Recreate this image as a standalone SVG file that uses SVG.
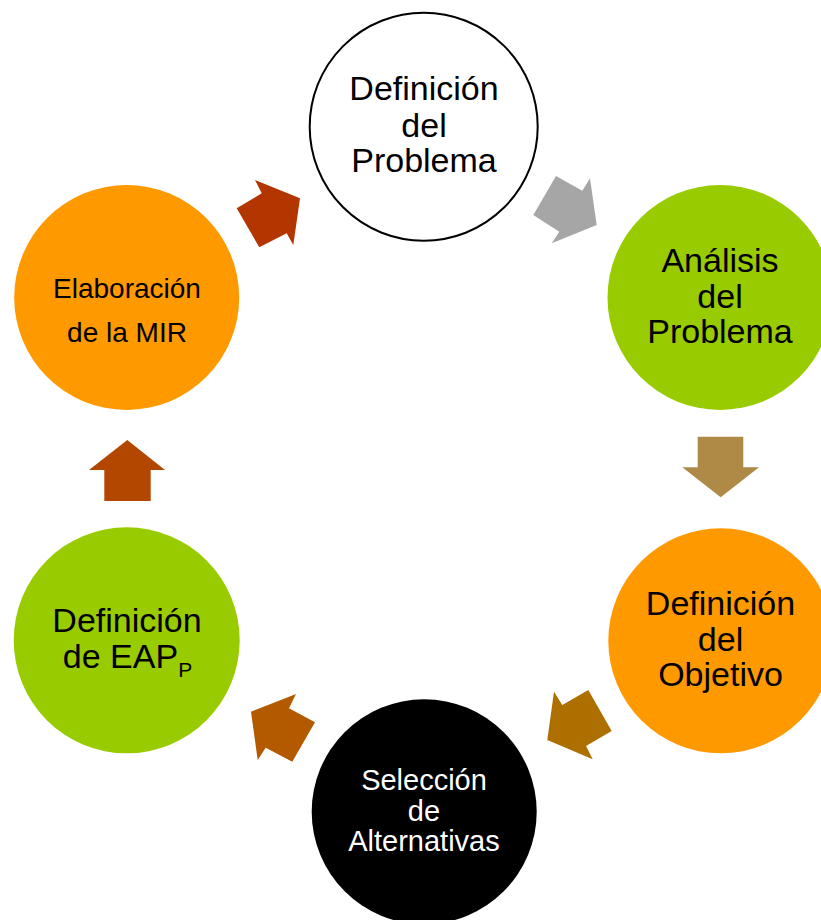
<svg xmlns="http://www.w3.org/2000/svg" width="821" height="920" viewBox="0 0 821 920">
<style>
text{font-family:"Liberation Sans",Arial,sans-serif;text-anchor:middle;fill:#000}
.big{font-size:34px}
.mid{font-size:28px}
.sel{font-size:29px;fill:#fff}
.orange{fill:#FF9900}
.green{fill:#99CC00}
</style>
<rect width="821" height="920" fill="#fff"/>
<g id="connectors">
<polygon fill="#A6A6A6" points="556,176 582.3,190.7 590,178.3 596.7,225 551.7,243.3 559.3,231.7 533.3,215"/>
<polygon fill="#AF8A47" points="697.7,436.7 743.3,436.7 743.3,467.3 759,467.3 720.7,497.3 682.3,467.3 697.7,467.3"/>
<polygon fill="#AD7000" points="554,691.7 562.3,705 588.3,690 611.7,731 586,746 592.7,759.3 547.3,740"/>
<polygon fill="#B35900" points="251,711.7 296,694 289,708.3 315,722.3 292.3,761.7 265.7,747.7 257.7,760"/>
<polygon fill="#B34700" points="127.3,440 165,470 150.7,470 150.7,501 104.3,501 104.3,470 89,470"/>
<polygon fill="#B33600" points="255,180 300,198.3 293.3,245 286.7,233.3 259.3,247.3 236.7,208.3 261.7,193.3"/>
</g>
<g id="n1">
<circle cx="423.7" cy="126.7" r="114" fill="#fff" stroke="#000" stroke-width="2"/>
<text class="big" x="424" y="100">Definición</text>
<text class="big" x="424" y="136.5">del</text>
<text class="big" x="424" y="171.5">Problema</text>
</g>
<g id="n2">
<circle class="green" cx="720" cy="297.5" r="112.5"/>
<text class="big" x="720" y="271.5">Análisis</text>
<text class="big" x="720" y="308">del</text>
<text class="big" x="720" y="343">Problema</text>
</g>
<g id="n3">
<circle class="orange" cx="720.8" cy="640.8" r="112.5"/>
<text class="big" x="720.5" y="614.5">Definición</text>
<text class="big" x="720.5" y="650.5">del</text>
<text class="big" x="720.5" y="686">Objetivo</text>
</g>
<g id="n4">
<circle cx="424.2" cy="811.8" r="112.5" fill="#000"/>
<text class="sel" x="424" y="790">Selección</text>
<text class="sel" x="424" y="820.5">de</text>
<text class="sel" x="424" y="850.5">Alternativas</text>
</g>
<g id="n5">
<circle class="green" cx="126.7" cy="640.3" r="113"/>
<text class="big" x="127" y="631.5">Definición</text>
<text class="big" x="127.5" y="668.3">de EAP<tspan font-size="21" dy="8.5">P</tspan></text>
</g>
<g id="n6">
<circle class="orange" cx="126.7" cy="297.5" r="112.5"/>
<text class="mid" x="127" y="298.3">Elaboración</text>
<text class="mid" x="127" y="342.3">de la MIR</text>
</g>
</svg>
